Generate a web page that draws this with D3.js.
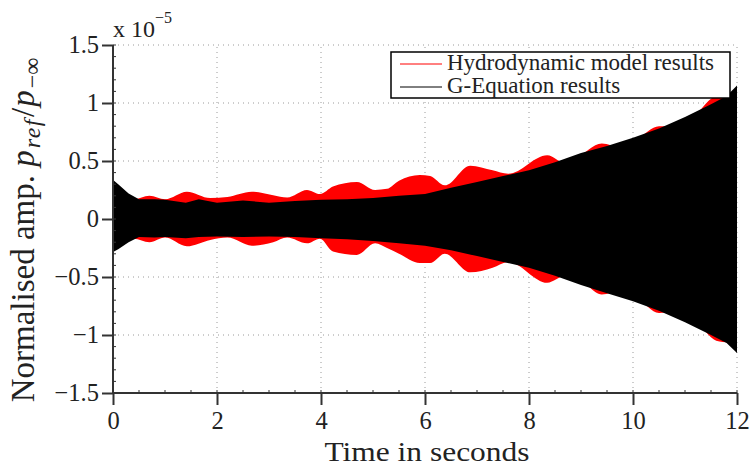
<!DOCTYPE html>
<html><head><meta charset="utf-8">
<script src="https://cdn.jsdelivr.net/npm/d3@7"></script>
<style>body{margin:0;background:#fff}svg{display:block}</style>
</head><body><svg id="c" width="750" height="468"></svg>
<script>
// ---- data (values in units of 1e-5) ----
const xTicks = [0, 2, 4, 6, 8, 10, 12];
const yTicks = [-1.5, -1, -0.5, 0, 0.5, 1, 1.5];
const yTickLabels = ["\u22121.5", "\u22121", "\u22120.5", "0", "0.5", "1", "1.5"];
const seriesNames = ["Hydrodynamic model results", "G-Equation results"];

const redTime  = [0, 0.1, 0.4, 0.7, 1.0, 1.42, 1.87, 2.2, 2.67, 3.08, 3.35, 3.73, 3.98, 4.23, 4.69, 5.04, 5.27, 5.5, 5.9, 6.1, 6.38, 6.87, 7.3, 7.6, 8.35, 8.7, 8.9, 9.4, 9.75, 10.08, 10.5, 10.8, 11.2, 11.6, 11.85, 12];
const redUpper = [0.27, 0.22, 0.17, 0.2, 0.17, 0.235, 0.18, 0.19, 0.235, 0.205, 0.185, 0.25, 0.215, 0.28, 0.32, 0.25, 0.26, 0.33, 0.38, 0.37, 0.29, 0.46, 0.42, 0.39, 0.55, 0.48, 0.52, 0.65, 0.62, 0.69, 0.8, 0.8, 0.9, 1.06, 1.07, 1.1];
const redLower = [-0.27, -0.22, -0.17, -0.2, -0.16, -0.235, -0.18, -0.16, -0.23, -0.2, -0.16, -0.21, -0.17, -0.28, -0.31, -0.21, -0.25, -0.3, -0.38, -0.38, -0.3, -0.46, -0.42, -0.37, -0.55, -0.49, -0.5, -0.65, -0.62, -0.68, -0.81, -0.8, -0.88, -1.05, -1.07, -1.1];

const blackTime  = [0, 0.02, 0.1, 0.3, 0.5, 0.8, 1.0, 1.4, 1.65, 2.0, 2.5, 3.0, 3.5, 4.0, 4.5, 5.0, 5.5, 6.0, 6.5, 7.0, 7.5, 8.0, 8.5, 9.0, 9.5, 10.0, 10.5, 11.0, 11.5, 11.8, 12];
const blackUpper = [0.36, 0.33, 0.3, 0.22, 0.17, 0.17, 0.165, 0.14, 0.17, 0.14, 0.16, 0.14, 0.155, 0.165, 0.17, 0.18, 0.2, 0.215, 0.27, 0.32, 0.37, 0.42, 0.49, 0.57, 0.63, 0.70, 0.78, 0.88, 0.99, 1.06, 1.15];
const blackLower = [-0.28, -0.28, -0.26, -0.2, -0.155, -0.16, -0.155, -0.165, -0.155, -0.15, -0.155, -0.15, -0.155, -0.165, -0.175, -0.19, -0.21, -0.23, -0.27, -0.32, -0.37, -0.42, -0.49, -0.57, -0.64, -0.71, -0.79, -0.89, -1.0, -1.07, -1.155];

const FONT = "'Liberation Serif', 'DejaVu Serif', 'Noto Serif', serif";
const svg = d3.select("#c");
const x = d3.scaleLinear().domain([0, 12]).range([113, 737]);
const y = d3.scaleLinear().domain([-1.5, 1.5]).range([393, 45]);

// grid
const grid = svg.append("g").attr("stroke", "#9a9a9a").attr("stroke-width", 1).attr("stroke-dasharray", "1,4");
grid.selectAll(".gx").data(xTicks.slice(1)).join("line")
  .attr("x1", d => x(d)).attr("x2", d => x(d)).attr("y1", y(-1.5)).attr("y2", y(1.5));
grid.selectAll(".gy").data(yTicks.slice(1)).join("line")
  .attr("x1", x(0)).attr("x2", x(12)).attr("y1", d => y(d)).attr("y2", d => y(d));

// envelopes
function band(t, up, lo) { return t.map((v, i) => ({t: v, u: up[i], l: lo[i]})); }
const area = d3.area().x(d => x(d.t)).y0(d => y(d.l)).y1(d => y(d.u)).curve(d3.curveMonotoneX);
svg.append("path").datum(band(redTime, redUpper, redLower)).attr("d", area).attr("fill", "#ff0000");
svg.append("path").datum(band(blackTime, blackUpper, blackLower)).attr("d", area.curve(d3.curveLinear)).attr("fill", "#000");

// axes
const ax = svg.append("g").attr("transform", `translate(0,${y(-1.5)})`)
  .call(d3.axisBottom(x).tickValues(xTicks).tickSize(12).tickPadding(7).tickFormat(d3.format("d")));
const ay = svg.append("g").attr("transform", `translate(${x(0)},0)`)
  .call(d3.axisLeft(y).tickValues(yTicks).tickSize(11).tickPadding(3).tickFormat((d, i) => yTickLabels[i]));
[ax, ay].forEach(g => {
  g.attr("font-family", null);
  g.select(".domain").attr("stroke", "#333").attr("stroke-width", 2);
  g.selectAll(".tick line").attr("stroke", "#333").attr("stroke-width", 2);
  g.selectAll(".tick text").style("font-family", FONT).attr("font-size", 24.5).attr("fill", "#222");
});
ay.select(".domain").attr("d", `M0,${y(-1.5)}V${y(1.5)}`);
ax.select(".domain").attr("d", `M${x(0)},0H${x(12)}`);
// minor ticks
const minorX = d3.range(0, 12.001, 0.5);
svg.append("g").selectAll("line").data(minorX).join("line")
  .attr("x1", d => x(d)).attr("x2", d => x(d)).attr("y1", y(-1.5)).attr("y2", y(-1.5) - 3)
  .attr("stroke", "#333").attr("stroke-width", 1);
const minorY = d3.range(-1.5, 1.501, 0.1);
svg.append("g").selectAll("line").data(minorY).join("line")
  .attr("y1", d => y(d)).attr("y2", d => y(d)).attr("x1", x(0)).attr("x2", x(0) + 3)
  .attr("stroke", "#333").attr("stroke-width", 1);

// exponent
const ex = svg.append("text").attr("x", 113).attr("y", 37).attr("font-size", 24).style("font-family", FONT).attr("fill", "#222");
ex.append("tspan").text("x 10");
ex.append("tspan").attr("dy", -14).attr("font-size", 16).text("\u22125");

// x label
svg.append("text").attr("x", 427).attr("y", 461).attr("text-anchor", "middle").attr("font-size", 28)
  .attr("textLength", 205).attr("lengthAdjust", "spacingAndGlyphs")
  .style("font-family", FONT).attr("fill", "#222").text("Time in seconds");

// y label
const yl = svg.append("text").attr("transform", "translate(34,230) rotate(-90)").attr("text-anchor", "middle")
  .attr("font-size", 33).style("font-family", FONT).attr("fill", "#222");
yl.append("tspan").text("Normalised amp. ");
yl.append("tspan").attr("font-style", "italic").text("p");
yl.append("tspan").attr("font-style", "italic").attr("font-size", 24).attr("dy", 6).attr("dx", 2).attr("letter-spacing", 1.5).text("ref");
yl.append("tspan").attr("dy", -6).attr("dx", 1).text("/");
yl.append("tspan").attr("font-style", "italic").attr("dx", 1).text("p");
yl.append("tspan").attr("font-size", 24).attr("dy", 6).attr("dx", 2).text("\u2212\u221e");

// legend
const lg = svg.append("g");
lg.append("rect").attr("x", 391).attr("y", 52).attr("width", 339).attr("height", 46)
  .attr("fill", "#fff").attr("stroke", "#000").attr("stroke-width", 1.5);
const legColors = ["#ff0000", "#000"];
seriesNames.forEach((name, i) => {
  const yy = 64 + i * 23;
  lg.append("line").attr("x1", 400).attr("x2", 442).attr("y1", yy).attr("y2", yy).attr("stroke", legColors[i]).attr("stroke-width", 1);
  lg.append("text").attr("x", 447).attr("y", yy + 6).attr("font-size", 23).style("font-family", FONT).attr("fill", "#222").text(name);
});
</script></body></html>
